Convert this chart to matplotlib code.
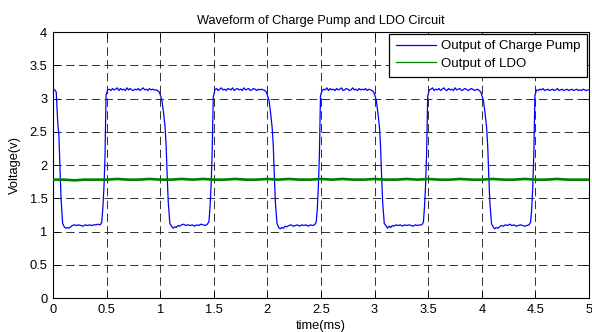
import numpy as np
import matplotlib
matplotlib.use("Agg")
import matplotlib.pyplot as plt

plt.rcParams["font.family"] = ["Liberation Sans", "DejaVu Sans"]
plt.rcParams["lines.scale_dashes"] = False

# charge pump output: sample times inside one 1 ms period
cycle_start = [0.0, 1.0, 2.0, 3.0, 4.0]
cycle_offsets = [
    0.000, 0.015, 0.030, 0.045, 0.055, 0.065, 0.075, 0.090,
    0.105, 0.120, 0.135, 0.150, 0.165, 0.180, 0.200, 0.220, 0.240, 0.260,
    0.280, 0.300, 0.320, 0.340, 0.360, 0.380, 0.400, 0.420, 0.440,
    0.455, 0.465, 0.475, 0.485, 0.495,
    0.510, 0.525, 0.540, 0.555, 0.570, 0.585, 0.600, 0.615, 0.630, 0.645,
    0.660, 0.675, 0.690, 0.705, 0.720, 0.735, 0.750, 0.765, 0.780, 0.795,
    0.810, 0.825, 0.840, 0.855, 0.870, 0.885, 0.900, 0.915, 0.930, 0.945,
    0.960, 0.975, 0.990,
]

# voltages read per period (fall, low plateau, rise, high plateau)
cp_cycle0 = [
    3.14, 3.13, 3.10, 2.62, 2.45, 1.95, 1.50, 1.12,
    1.07, 1.05, 1.06, 1.05, 1.07, 1.09, 1.10, 1.09, 1.10, 1.09,
    1.08, 1.10, 1.09, 1.10, 1.09, 1.10, 1.10, 1.11, 1.10,
    1.14, 1.35, 1.65, 2.10, 3.05,
    3.13, 3.14, 3.12, 3.15, 3.13, 3.14, 3.16, 3.12, 3.15, 3.13,
    3.14, 3.12, 3.16, 3.13, 3.15, 3.13, 3.12, 3.14, 3.13, 3.15,
    3.12, 3.14, 3.16, 3.13, 3.14, 3.12, 3.15, 3.13, 3.14, 3.13,
    3.13, 3.12, 3.10,
]
cp_cycle1 = [
    3.06, 2.98, 2.80, 2.58, 2.30, 1.85, 1.45, 1.12,
    1.08, 1.05, 1.07, 1.06, 1.09, 1.08, 1.10, 1.11, 1.09, 1.10,
    1.09, 1.10, 1.08, 1.10, 1.09, 1.11, 1.10, 1.09, 1.11,
    1.15, 1.38, 1.70, 2.20, 3.02,
    3.13, 3.15, 3.12, 3.14, 3.16, 3.13, 3.14, 3.12, 3.15, 3.14,
    3.13, 3.16, 3.12, 3.14, 3.15, 3.13, 3.14, 3.12, 3.16, 3.13,
    3.14, 3.15, 3.12, 3.13, 3.15, 3.14, 3.12, 3.14, 3.13, 3.14,
    3.13, 3.12, 3.10,
]
cp_cycle2 = [
    3.05, 2.97, 2.78, 2.55, 2.28, 1.82, 1.42, 1.12,
    1.06, 1.04, 1.06, 1.05, 1.08, 1.07, 1.09, 1.10, 1.08, 1.09,
    1.10, 1.08, 1.10, 1.09, 1.10, 1.08, 1.10, 1.09, 1.10,
    1.14, 1.33, 1.66, 2.15, 3.04,
    3.12, 3.14, 3.13, 3.16, 3.12, 3.15, 3.13, 3.14, 3.12, 3.15,
    3.13, 3.14, 3.16, 3.12, 3.13, 3.15, 3.14, 3.12, 3.13, 3.16,
    3.13, 3.14, 3.12, 3.15, 3.13, 3.14, 3.13, 3.15, 3.12, 3.14,
    3.13, 3.12, 3.10,
]
cp_cycle3 = [
    3.06, 2.98, 2.79, 2.57, 2.29, 1.84, 1.44, 1.12,
    1.09, 1.05, 1.08, 1.06, 1.09, 1.08, 1.10, 1.09, 1.10, 1.08,
    1.10, 1.09, 1.10, 1.09, 1.08, 1.10, 1.09, 1.10, 1.10,
    1.14, 1.36, 1.68, 2.18, 3.03,
    3.13, 3.14, 3.16, 3.12, 3.14, 3.13, 3.15, 3.12, 3.14, 3.16,
    3.13, 3.12, 3.15, 3.13, 3.14, 3.12, 3.16, 3.13, 3.14, 3.15,
    3.12, 3.13, 3.15, 3.14, 3.12, 3.13, 3.15, 3.14, 3.12, 3.13,
    3.14, 3.12, 3.10,
]
cp_cycle4 = [
    3.05, 2.97, 2.78, 2.56, 2.28, 1.83, 1.43, 1.12,
    1.07, 1.04, 1.06, 1.05, 1.07, 1.09, 1.08, 1.10, 1.09, 1.11,
    1.09, 1.10, 1.08, 1.09, 1.10, 1.09, 1.08, 1.09, 1.10,
    1.14, 1.34, 1.67, 2.16, 3.04,
    3.13, 3.12, 3.14, 3.13, 3.15, 3.12, 3.13, 3.14, 3.12, 3.13,
    3.14, 3.12, 3.13, 3.15, 3.12, 3.13, 3.14, 3.12, 3.13, 3.14,
    3.12, 3.13, 3.14, 3.12, 3.13, 3.14, 3.12, 3.13, 3.12, 3.14,
    3.13, 3.12, 3.13,
]
cp_end_time = 5.0
cp_end_volt = 3.13

# LDO output sampled every 0.1 ms
ldo_time = np.linspace(0, 5, 51)
ldo_volt = [
    1.78, 1.78, 1.77, 1.78, 1.78, 1.78, 1.79, 1.78, 1.78, 1.79, 1.78,
    1.78, 1.79, 1.78, 1.79, 1.78, 1.78, 1.79, 1.78, 1.78, 1.79,
    1.78, 1.79, 1.78, 1.78, 1.79, 1.78, 1.79, 1.78, 1.78, 1.79,
    1.78, 1.78, 1.79, 1.78, 1.79, 1.78, 1.78, 1.79, 1.78, 1.78,
    1.79, 1.78, 1.78, 1.79, 1.78, 1.78, 1.79, 1.78, 1.78, 1.78,
]

x_ticks = [0, 0.5, 1, 1.5, 2, 2.5, 3, 3.5, 4, 4.5, 5]
x_ticklabels = ["0", "0.5", "1", "1.5", "2", "2.5", "3", "3.5", "4", "4.5", "5"]
y_ticks = [0, 0.5, 1, 1.5, 2, 2.5, 3, 3.5, 4]
y_ticklabels = ["0", "0.5", "1", "1.5", "2", "2.5", "3", "3.5", "4"]


def main():
    cycles = [cp_cycle0, cp_cycle1, cp_cycle2, cp_cycle3, cp_cycle4]
    cp_time, cp_volt = [], []
    for start, volts in zip(cycle_start, cycles):
        cp_time += [start + o for o in cycle_offsets]
        cp_volt += volts
    cp_time.append(cp_end_time)
    cp_volt.append(cp_end_volt)

    fig = plt.figure(figsize=(5.92, 3.32), dpi=100)
    ax = fig.add_axes([0.0895, 0.1024, 0.9055, 0.8012])

    ax.plot(cp_time, cp_volt, color="#0000ff", lw=0.9, label="Output of Charge Pump", zorder=3)
    ax.plot(ldo_time, ldo_volt, color="#008000", lw=1.9, label="Output of LDO", zorder=3)

    ax.set_xlim(0, 5)
    ax.set_ylim(0, 4)
    ax.set_xticks(x_ticks)
    ax.set_xticklabels(x_ticklabels)
    ax.set_yticks(y_ticks)
    ax.set_yticklabels(y_ticklabels)
    ax.tick_params(direction="in", top=True, right=True, length=4, width=0.6,
                   labelsize=9.3, pad=4)
    ax.grid(True, color="#222222", lw=0.65, ls=(0, (6.0, 3.2)))
    for s in ax.spines.values():
        s.set_linewidth(0.8)

    ax.set_title("Waveform of Charge Pump and LDO Circuit", fontsize=9.2, pad=6)
    ax.set_xlabel("time(ms)", fontsize=9.3, labelpad=3)
    ax.set_ylabel("Voltage(v)", fontsize=9.3, labelpad=6)

    leg = ax.legend(loc="upper right", fontsize=9.5, handlelength=3.0,
                    borderaxespad=0.12, fancybox=False, framealpha=1,
                    handletextpad=0.45, labelspacing=0.4, borderpad=0.5)
    leg.get_frame().set_edgecolor("black")
    leg.get_frame().set_linewidth(0.9)
    for line in leg.get_lines():
        line.set_linewidth(0.9)

    fig.savefig("out.png", dpi=100)


if __name__ == "__main__":
    main()
